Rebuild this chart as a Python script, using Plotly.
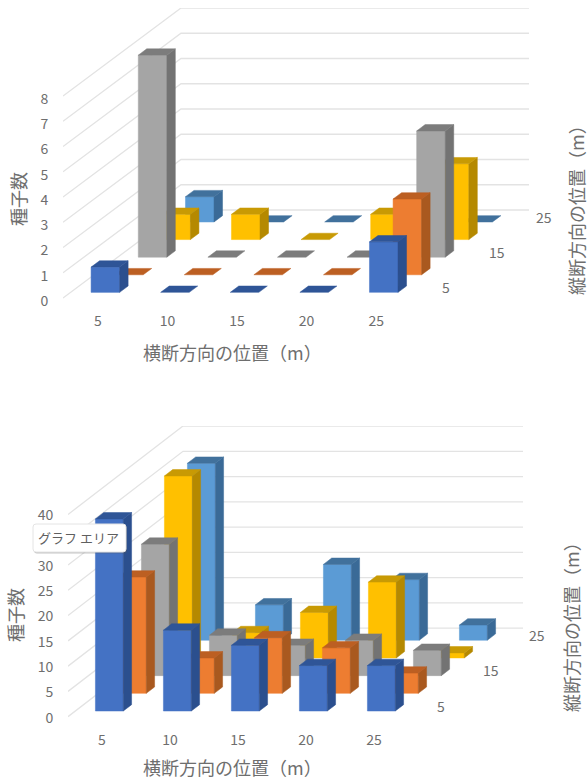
import plotly.graph_objects as go

W, H = 588, 780

# Rows run front to back along the longitudinal axis, columns along the transverse axis.
columns = ["5", "10", "15", "20", "25"]
rows = ["5", "10", "15", "20", "25"]

upper_row5 = [1, 0, 0, 0, 2]
upper_row10 = [0, 0, 0, 0, 3]
upper_row15 = [8, 0, 0, 0, 5]
upper_row20 = [1, 1, 0, 1, 3]
upper_row25 = [1, 0, 0, 0, 0]

lower_row5 = [38, 16, 13, 9, 9]
lower_row10 = [23, 7, 11, 9, 4]
lower_row15 = [26, 8, 6, 7, 5]
lower_row20 = [36, 5, 9, 15, 1]
lower_row25 = [35, 7, 15, 12, 3]

upper_ticks = [0, 1, 2, 3, 4, 5, 6, 7, 8]
upper_tick_text = ["0", "1", "2", "3", "4", "5", "6", "7", "8"]
lower_ticks = [0, 5, 10, 15, 20, 25, 30, 35, 40]
# the 35 label sits under the callout box
lower_tick_text = ["0", "5", "10", "15", "20", "25", "30", "", "40"]
depth_ticks = ["5", "15", "25"]

y_title = "種子数"
x_title = "横断方向の位置（m）"
depth_title = "縦断方向の位置（m）"
callout = "グラフ エリア"

# front, side and top shades for each row
SHADES = [
    ("#4472C4", "#2B4F8E", "#2F5597"),
    ("#ED7D31", "#A9591F", "#BC5F22"),
    ("#A5A5A5", "#737373", "#7C7C7C"),
    ("#FFC000", "#B58900", "#C89A04"),
    ("#5B9BD5", "#3A6A97", "#41719C"),
]
FONT = "Noto Sans CJK JP"
TEXT = "#6E6E6E"
GRID = "#E3E3E3"
BAR_W = 0.41
BAR_D = 0.36


def page_text(fig, cx, cy, text, size, angle=0, color=TEXT):
    """Place text centred on a page position given in pixels."""
    fig.add_annotation(x=cx / W, y=1 - cy / H, xref="paper", yref="paper", text=text,
                       textangle=angle, showarrow=False, xanchor="center", yanchor="middle",
                       font=dict(family=FONT, size=size, color=color))


def add_panel(fig, n, table, ticks, tick_text, left, right, top, zero_y, floor_px,
              slant_x, slant_y, unit_px, below, label_dx, label_shift):
    """Draw one oblique 3-D column panel. slant_x/slant_y are px of shift per depth row."""
    xa, ya = f"x{n}" if n > 1 else "x", f"y{n}" if n > 1 else "y"
    cat_px = floor_px / len(columns)
    kx = slant_x / cat_px            # column units per row
    ky = slant_y / unit_px           # value units per row
    nr, nc = len(rows), len(columns)

    def pt(col, row, val):
        return col + row * kx, val + row * ky

    def poly(corners, color):
        xs, ys = zip(*corners)
        fig.add_trace(go.Scatter(
            x=list(xs) + [xs[0]], y=list(ys) + [ys[0]], mode="lines", fill="toself",
            fillcolor=color, line=dict(color=color, width=0.5), hoverinfo="skip",
            showlegend=False, xaxis=xa, yaxis=ya))

    # side wall and back wall gridlines
    for v in ticks:
        a, b, c = pt(0, 0, v), pt(0, nr, v), pt(nc, nr, v)
        fig.add_trace(go.Scatter(
            x=[a[0], b[0], c[0]], y=[a[1], b[1], c[1]], mode="lines",
            line=dict(color=GRID, width=1.3), hoverinfo="skip",
            showlegend=False, xaxis=xa, yaxis=ya))

    # columns, painted from the back row forward
    for r in range(nr - 1, -1, -1):
        front, side, cap = SHADES[r]
        z0, z1 = r + 0.5 - BAR_D / 2, r + 0.5 + BAR_D / 2
        for c, v in enumerate(table[r]):
            x0, x1 = c + 0.5 - BAR_W / 2, c + 0.5 + BAR_W / 2
            if v > 0:
                poly([pt(x0, z0, 0), pt(x1, z0, 0), pt(x1, z0, v), pt(x0, z0, v)], front)
                poly([pt(x1, z0, 0), pt(x1, z1, 0), pt(x1, z1, v), pt(x1, z0, v)], side)
            poly([pt(x0, z0, v), pt(x1, z0, v), pt(x1, z1, v), pt(x0, z1, v)], cap)

    # depth axis labels along the right edge of the floor
    for lab in depth_ticks:
        r = rows.index(lab)
        x, y = pt(nc, r + 0.5, 0)
        fig.add_annotation(x=x, y=y, xref=xa, yref=ya, text=lab, showarrow=False,
                           xanchor="left", yanchor="middle", xshift=label_dx, yshift=2,
                           font=dict(family=FONT, size=14, color=TEXT))

    axis_suffix = "" if n == 1 else str(n)
    bottom = zero_y + below
    fig.update_layout({
        f"xaxis{axis_suffix}": dict(
            domain=[left / W, right / W], range=[0, nc + nr * kx], anchor=ya, automargin=False,
            tickvals=[i + 0.5 for i in range(nc)], ticktext=columns,
            ticks="outside", ticklen=2, tickcolor="rgba(0,0,0,0)",
            showgrid=False, zeroline=False, showline=False,
            tickfont=dict(family=FONT, size=14, color=TEXT)),
        f"yaxis{axis_suffix}": dict(
            domain=[1 - bottom / H, 1 - top / H], automargin=False,
            range=[-below / unit_px, ticks[-1] + nr * ky], anchor=xa,
            tickvals=ticks, ticktext=tick_text, ticks="outside", ticklen=11,
            tickcolor="rgba(0,0,0,0)", ticklabelshift=label_shift,
            showgrid=False, zeroline=False, showline=False,
            tickfont=dict(family=FONT, size=14, color=TEXT)),
    })


fig = go.Figure()
add_panel(fig, 1, [upper_row5, upper_row10, upper_row15, upper_row20, upper_row25],
          upper_ticks, upper_tick_text, 63, 529, 8, 298, 348, 23.6, 17.6, 25.25, 8, 17, 3)
add_panel(fig, 2, [lower_row5, lower_row10, lower_row15, lower_row20, lower_row25],
          lower_ticks, lower_tick_text, 68, 523, 426, 716.7, 340, 23, 17.68, 5.05, 8, 15, 1)

# axis titles for both panels
page_text(fig, 232, 352, x_title, 18)
page_text(fig, 232, 767, x_title, 18)
page_text(fig, 18, 199, y_title, 18, -90)
page_text(fig, 15, 615, y_title, 18, -90)
page_text(fig, 576, 206, depth_title, 18, -90)
page_text(fig, 571, 623, depth_title, 18, -90)


def rounded(x0, y0, x1, y1, r):
    px = lambda x: x / W
    py = lambda y: 1 - y / H
    return (f"M{px(x0 + r)},{py(y0)} L{px(x1 - r)},{py(y0)} Q{px(x1)},{py(y0)} {px(x1)},{py(y0 + r)} "
            f"L{px(x1)},{py(y1 - r)} Q{px(x1)},{py(y1)} {px(x1 - r)},{py(y1)} "
            f"L{px(x0 + r)},{py(y1)} Q{px(x0)},{py(y1)} {px(x0)},{py(y1 - r)} "
            f"L{px(x0)},{py(y0 + r)} Q{px(x0)},{py(y0)} {px(x0 + r)},{py(y0)} Z")


# callout box with a soft drop shadow
fig.add_shape(type="path", path=rounded(34, 525, 127, 553.5, 3), xref="paper", yref="paper",
              fillcolor="rgba(90,90,90,0.35)", line=dict(width=0))
fig.add_shape(type="path", path=rounded(33, 524, 126, 552, 3), xref="paper", yref="paper",
              fillcolor="#FFFFFF", line=dict(color="#E4E4E4", width=1))
page_text(fig, 78, 537, callout, 13, color="#5F5F5F")

fig.update_layout(width=W, height=H, margin=dict(l=0, r=0, t=0, b=0),
                  paper_bgcolor="white", plot_bgcolor="white", showlegend=False, hovermode=False)
fig.write_html("out.html", config={"displayModeBar": False})
